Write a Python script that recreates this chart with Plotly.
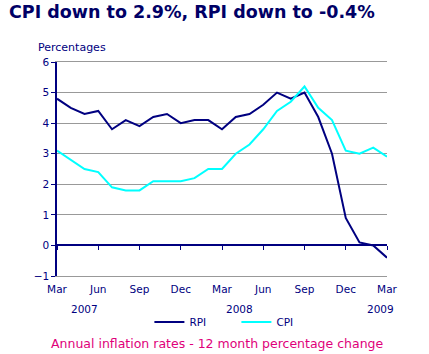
import plotly.graph_objects as go

months = ["Mar", "Apr", "May", "Jun", "Jul", "Aug", "Sep", "Oct", "Nov", "Dec", "Jan", "Feb",
          "Mar", "Apr", "May", "Jun", "Jul", "Aug", "Sep", "Oct", "Nov", "Dec", "Jan", "Feb", "Mar"]
rpi = [4.8, 4.5, 4.3, 4.4, 3.8, 4.1, 3.9, 4.2, 4.3, 4.0, 4.1, 4.1,
       3.8, 4.2, 4.3, 4.6, 5.0, 4.8, 5.0, 4.2, 3.0, 0.9, 0.1, 0.0, -0.4]
cpi = [3.1, 2.8, 2.5, 2.4, 1.9, 1.8, 1.8, 2.1, 2.1, 2.1, 2.2, 2.5,
       2.5, 3.0, 3.3, 3.8, 4.4, 4.7, 5.2, 4.5, 4.1, 3.1, 3.0, 3.2, 2.9]
years = ["2007", "2008", "2009"]
year_pos = [2, 13.3, 23.5]

xi = list(range(len(months)))
tick_idx = xi[::3]
tick_txt = [months[i] for i in tick_idx]

NAVY = "#000080"
GRID = "#999999"
FONT = "Verdana, DejaVu Sans, sans-serif"

fig = go.Figure()
fig.add_trace(go.Scatter(x=xi, y=rpi, name="RPI", mode="lines",
                         line=dict(color=NAVY, width=2)))
fig.add_trace(go.Scatter(x=xi, y=cpi, name="CPI", mode="lines",
                         line=dict(color="#00FFFF", width=2)))
# invisible trace to carry the zero-line tick axis
fig.add_trace(go.Scatter(x=xi, y=rpi, xaxis="x2", mode="lines", showlegend=False,
                         line=dict(width=0), opacity=0, hoverinfo="skip"))

fig.update_layout(
    width=429, height=354,
    margin=dict(l=57, r=42, t=62, b=78),
    paper_bgcolor="white", plot_bgcolor="white",
    font=dict(family=FONT, color=NAVY, size=10),
    showlegend=True,
    legend=dict(orientation="h", x=0.28, y=-0.215, xanchor="left", yanchor="middle",
                font=dict(size=10.5, color=NAVY), itemwidth=30, entrywidth=42,
                bgcolor="rgba(0,0,0,0)"),
    xaxis=dict(range=[0, 24], tickvals=tick_idx, ticktext=tick_txt, ticks="",
               showgrid=False, showline=True, linecolor=GRID, linewidth=1, mirror=True,
               zeroline=False, ticklabelstandoff=3,
               tickfont=dict(size=10.5, color=NAVY)),
    xaxis2=dict(range=[0, 24], overlaying="x", anchor="free", position=1/7,
                side="bottom", tickvals=tick_idx, ticks="outside", ticklen=4,
                tickcolor=NAVY, showticklabels=False, showgrid=False,
                showline=False, zeroline=False),
    yaxis=dict(range=[-1, 6], tickvals=[-1, 0, 1, 2, 3, 4, 5, 6], showgrid=True,
               gridcolor=GRID, gridwidth=1, zeroline=True, zerolinecolor=NAVY,
               zerolinewidth=1.5, showline=True, linecolor=NAVY, linewidth=1.5,
               ticks="outside", ticklen=4, tickcolor=NAVY,
               tickfont=dict(size=10.5, color=NAVY)),
)

fig.add_annotation(text="<b>CPI down to 2.9%, RPI down to -0.4%</b>", xref="paper", yref="paper",
                   x=-50/330, y=1 + 50/214, xanchor="left", yanchor="middle", showarrow=False,
                   font=dict(size=17.5, color="#000066", family=FONT))
fig.add_annotation(text="Percentages", xref="paper", yref="paper",
                   x=-21/330, y=1 + 15/214, xanchor="left", yanchor="middle", showarrow=False,
                   font=dict(size=11, color=NAVY))
for yr, p in zip(years, year_pos):
    fig.add_annotation(text=yr, x=p, xref="x", yref="paper", y=-33/214,
                       xanchor="center", yanchor="middle", showarrow=False,
                       font=dict(size=10.5, color=NAVY))
fig.add_annotation(text="Annual inflation rates - 12 month percentage change",
                   xref="paper", yref="paper", x=(217 - 57) / 330, y=-67/214,
                   xanchor="center", yanchor="middle", showarrow=False,
                   font=dict(size=12.5, color="#E0007A"))

fig.write_html("out.html")
